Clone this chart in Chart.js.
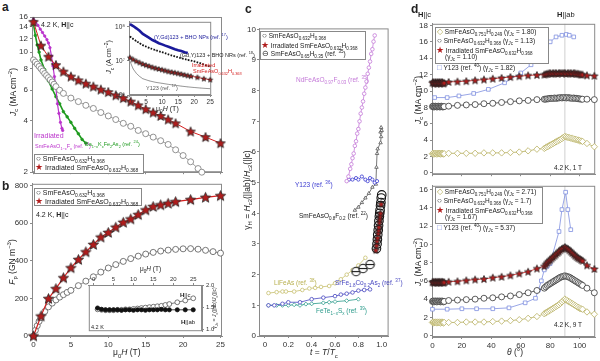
<!DOCTYPE html>
<html>
<head>
<meta charset="utf-8">
<script src="https://cdn.jsdelivr.net/npm/chart.js@4.4.1/dist/chart.umd.min.js"></script>
<style>
body { margin: 0; background: #fff; }
#fig { position: relative; width: 600px; height: 361px; overflow: hidden; font-family: "Liberation Sans", Arial, sans-serif; color: #222; }
#fig canvas { position: absolute; }
.t { position: absolute; white-space: nowrap; font-size: 7px; line-height: 1; z-index: 5; }
.t sub, .t sup { font-size: 70%; line-height: 0; }
.L { position: absolute; font-weight: bold; font-size: 12px; line-height: 1; z-index: 5; }
.box { position: absolute; border: 1px solid #888; background: #fff; z-index: 4; }
.rot { transform: translate(-50%, -50%) rotate(-90deg); font-size: 8.5px; }
.mk { font-size: 8px; }
.st { color: #b01c1c; font-size: 9px; }
</style>
</head>
<body>
<div id="fig">
  <div class="L" style="left:2px;top:1px">a</div>
  <div class="L" style="left:2px;top:180px">b</div>
  <div class="L" style="left:245px;top:3px">c</div>
  <div class="L" style="left:411px;top:3px">d</div>

  <!-- panel a -->
  <div class="t rot" style="left:13px;top:92px"><i>J</i><sub>c</sub> (MA cm<sup>−2</sup>)</div>
  <div class="t" style="left:41px;top:21px">4.2 K, <b>H</b>||c</div>
  <div class="t" style="left:34px;top:132px;color:#bb33cc">Irradiated</div>
  <div class="t" style="left:35px;top:144px;font-size:5.5px;color:#bb33cc">SmFeAsO<sub>1−x</sub>F<sub>x</sub> (ref. <sup>23</sup>)</div>
  <div class="t" style="left:85px;top:142px;font-size:5.5px;color:#1e9a1e">Ba<sub>1−x</sub>K<sub>x</sub>Fe<sub>2</sub>As<sub>2</sub> (ref. <sup>24</sup>)</div>
  <div class="box" style="left:34px;top:154px;width:108px;height:18px"></div>
  <div class="t" style="left:36px;top:155px"><span class="mk">○</span> SmFeAsO<sub>0.632</sub>H<sub>0.368</sub></div>
  <div class="t" style="left:35px;top:163px"><span class="st">★</span> Irradiated SmFeAsO<sub>0.632</sub>H<sub>0.368</sub></div>

  <!-- inset a -->
  <div class="t rot" style="left:109px;top:57px;font-size:7px"><i>J</i><sub>c</sub> (A cm<sup>−2</sup>)</div>
  <div class="t" style="left:156px;top:105px;font-size:7px">μ<sub>0</sub><i>H</i> (T)</div>
  <div class="t" style="left:154px;top:35px;font-size:5.5px;color:#1a1a9a">(Y,Gd)123 + BHO NPs (ref. <sup>17</sup>)</div>
  <div class="t" style="left:180px;top:53px;font-size:5.5px">(Gd,Y)123 + BHO NRs (ref. <sup>18</sup>)</div>
  <div class="t" style="left:192px;top:63px;font-size:5.5px;color:#d42020">Irradiated</div>
  <div class="t" style="left:193px;top:69px;font-size:5.5px;color:#d42020">SmFeAsO<sub>0.632</sub>H<sub>0.368</sub></div>
  <div class="t" style="left:146px;top:86px;font-size:5.5px;color:#555">Y123 (ref. <sup>17</sup>)</div>

  <!-- panel b -->
  <div class="t rot" style="left:12px;top:262px"><i>F</i><sub>p</sub> (GN m<sup>−3</sup>)</div>
  <div class="t" style="left:113px;top:348px;font-size:8.5px">μ<sub>0</sub><i>H</i> (T)</div>
  <div class="box" style="left:34px;top:188px;width:106px;height:16px"></div>
  <div class="t" style="left:36px;top:189px"><span class="mk">○</span> SmFeAsO<sub>0.632</sub>H<sub>0.368</sub></div>
  <div class="t" style="left:35px;top:197px"><span class="st">★</span> Irradiated SmFeAsO<sub>0.632</sub>H<sub>0.368</sub></div>
  <div class="t" style="left:36px;top:211px">4.2 K, <b>H</b>||c</div>

  <!-- inset b -->
  <div class="t" style="left:140px;top:266px;font-size:6.5px">μ<sub>0</sub><i>H</i> (T)</div>
  <div class="t" style="left:180px;top:292px;font-size:6px"><b>H</b>||c</div>
  <div class="t" style="left:181px;top:319px;font-size:6px"><b>H</b>||ab</div>
  <div class="t" style="left:91px;top:325px;font-size:5.5px">4.2 K</div>
  <div class="t" style="left:214px;top:308px;font-size:5px;transform:translate(-50%,-50%) rotate(-90deg)">γ<sub><i>J</i>c</sub> = <i>J</i><sub>c</sub>(||ab)/<i>J</i><sub>c</sub>(||c)</div>

  <!-- panel c -->
  <div class="t rot" style="left:247px;top:190px">γ<sub>H</sub> = <i>H</i><sub>c2</sub>(||ab)/<i>H</i><sub>c2</sub>(||c)</div>
  <div class="t" style="left:310px;top:348px;font-size:8.5px"><i>t</i> = <i>T</i>/<i>T</i><sub>c</sub></div>
  <div class="box" style="left:260px;top:31px;width:104px;height:27px"></div>
  <div class="t" style="left:262px;top:32px;font-size:6.5px"><span class="mk">○</span> SmFeAsO<sub>0.632</sub>H<sub>0.368</sub></div>
  <div class="t" style="left:261px;top:41px;font-size:6.5px"><span class="st">★</span> Irradiated SmFeAsO<sub>0.632</sub>H<sub>0.368</sub></div>
  <div class="t" style="left:262px;top:50px;font-size:6.5px"><span class="mk">⊖</span> SmFeAsO<sub>0.65</sub>H<sub>0.35</sub> (ref. <sup>35</sup>)</div>
  <div class="t" style="left:296px;top:77px;font-size:6.5px;color:#c47ad8">NdFeAsO<sub>0.97</sub>F<sub>0.03</sub> (ref. <sup>35</sup>)</div>
  <div class="t" style="left:295px;top:182px;font-size:6.5px;color:#3a3ad0">Y123 (ref. <sup>36</sup>)</div>
  <div class="t" style="left:299px;top:213px;font-size:6.5px">SmFeAsO<sub>0.8</sub>F<sub>0.2</sub> (ref. <sup>22</sup>)</div>
  <div class="t" style="left:274px;top:280px;font-size:6.5px;color:#b8b050">LiFeAs (ref. <sup>38</sup>)</div>
  <div class="t" style="left:335px;top:280px;font-size:6.5px;color:#4848c0">SrFe<sub>1.8</sub>Co<sub>0.2</sub>As<sub>2</sub> (ref. <sup>37</sup>)</div>
  <div class="t" style="left:316px;top:308px;font-size:6.5px;color:#2a9a8a">FeTe<sub>1−x</sub>S<sub>x</sub> (ref. <sup>39</sup>)</div>

  <!-- panel d -->
  <div class="t" style="left:418px;top:11px;font-size:7.5px"><b>H</b>||c</div>
  <div class="t" style="left:557px;top:11px;font-size:7.5px"><b>H</b>||ab</div>
  <div class="t rot" style="left:418px;top:100px"><i>J</i><sub>c</sub> (MA cm<sup>−2</sup>)</div>
  <div class="t rot" style="left:418px;top:262px"><i>J</i><sub>c</sub> (MA cm<sup>−2</sup>)</div>
  <div class="t" style="left:507px;top:348px;font-size:8.5px"><i>θ</i> (°)</div>
  <div class="t" style="left:554px;top:165px;font-size:6.5px">4.2 K, 1 T</div>
  <div class="t" style="left:554px;top:322px;font-size:6.5px">4.2 K, 9 T</div>

  <div class="box" style="left:435px;top:27px;width:112px;height:35px"></div>
  <div class="t" style="left:437px;top:28px;font-size:6.5px"><span class="mk" style="color:#b8b060">◇</span> SmFeAsO<sub>0.751</sub>H<sub>0.249</sub> (γ<sub><i>J</i>c</sub> = 1.80)</div>
  <div class="t" style="left:437px;top:37px;font-size:6.5px"><span class="mk">○</span> SmFeAsO<sub>0.632</sub>H<sub>0.368</sub> (γ<sub><i>J</i>c</sub> = 1.13)</div>
  <div class="t" style="left:436px;top:46px;font-size:6.5px"><span class="st">★</span> Irradiated SmFeAsO<sub>0.632</sub>H<sub>0.368</sub></div>
  <div class="t" style="left:445px;top:54px;font-size:6.5px">(γ<sub><i>J</i>c</sub> = 1.10)</div>
  <div class="t" style="left:437px;top:64px;font-size:6.5px"><span class="mk" style="color:#7f8fe0">□</span> Y123 (ref. <sup>40</sup>) (γ<sub><i>J</i>c</sub> = 1.82)</div>

  <div class="box" style="left:435px;top:187px;width:106px;height:35px"></div>
  <div class="t" style="left:437px;top:188px;font-size:6.5px"><span class="mk" style="color:#b8b060">◇</span> SmFeAsO<sub>0.751</sub>H<sub>0.249</sub> (γ<sub><i>J</i>c</sub> = 2.71)</div>
  <div class="t" style="left:437px;top:197px;font-size:6.5px"><span class="mk">○</span> SmFeAsO<sub>0.632</sub>H<sub>0.368</sub> (γ<sub><i>J</i>c</sub> = 1.7)</div>
  <div class="t" style="left:436px;top:206px;font-size:6.5px"><span class="st">★</span> Irradiated SmFeAsO<sub>0.632</sub>H<sub>0.368</sub></div>
  <div class="t" style="left:445px;top:214px;font-size:6.5px">(γ<sub><i>J</i>c</sub> = 1.67)</div>
  <div class="t" style="left:437px;top:224px;font-size:6.5px"><span class="mk" style="color:#7f8fe0">□</span> Y123 (ref. <sup>40</sup>) (γ<sub><i>J</i>c</sub> = 5.37)</div>
</div>

<script>
const FONT = '"Liberation Sans", Arial, sans-serif';

/* ---------------- data: panel a ---------------- */
const aTicksX = [0, 5, 10, 15, 20, 25];
const aTicksY = [2, 4, 6, 8, 10, 12, 14, 16];
const aIrrX = [0, 1, 2, 3, 4, 5, 6, 7, 8, 9, 10, 11, 12, 13, 14, 15, 16, 17, 18, 19, 21, 23, 25];
const aIrrY = [15, 10.9, 9.4, 8.4, 7.7, 7.2, 6.85, 6.55, 6.3, 6.05, 5.85, 5.6, 5.4, 5.15, 4.9, 4.65, 4.45, 4.25, 4.05, 3.85, 3.45, 3.2, 2.95];
const aPrsX = [0, 0.25, 0.5, 0.75, 1, 1.25, 1.5, 1.75, 2, 2.25, 2.5, 2.75, 3, 3.5, 4, 5, 6, 7, 8, 9, 10, 11, 12, 13, 14, 15, 16, 17, 18, 19, 20, 21, 22, 22.5];
const aPrsY = [9.0, 8.75, 8.5, 8.25, 8.0, 7.75, 7.5, 7.3, 7.1, 6.9, 6.7, 6.5, 6.3, 6.0, 5.75, 5.4, 5.15, 4.9, 4.7, 4.45, 4.25, 4.05, 3.85, 3.7, 3.5, 3.35, 3.2, 3.05, 2.9, 2.7, 2.5, 2.3, 2.1, 2.0];
const aMagX = [0, 0.3, 0.6, 0.9, 1.2, 1.5, 1.8, 2.0, 2.2, 2.4, 2.6, 2.8, 3.0, 3.2, 3.4, 3.6, 3.8, 3.9];
const aMagY = [15.5, 15, 14.3, 13.6, 13, 12.4, 11.8, 11.3, 10.6, 9.5, 8.3, 7.2, 6.2, 5.0, 4.4, 3.9, 3.6, 3.5];
const aGrnX = [0, 0.25, 0.5, 0.75, 1, 1.5, 2, 2.5, 3, 3.5, 4, 4.5, 5, 5.5, 6, 6.5, 7];
const aGrnY = [14.5, 12.5, 11, 10, 9.0, 7.9, 6.8, 6.1, 5.5, 5.0, 4.5, 4.2, 3.9, 3.6, 3.35, 3.1, 2.95];

/* inset a */
const iaTicksX = [0, 5, 10, 15, 20, 25];
const iaTicksY = [1e6, 1e7, 1e8];
const iaLabelsY = ['10⁶', '10⁷', '10⁸'];
const iaBlueX = [0, 1, 2, 3, 4, 5, 6, 7, 8, 9, 10, 11, 12, 13, 14, 15, 16, 17, 18];
const iaBlueY = [1.2e8, 1.05e8, 9.0e7, 7.6e7, 6.2e7, 5.4e7, 4.7e7, 4.1e7, 3.7e7, 3.3e7, 3.05e7, 2.8e7, 2.6e7, 2.4e7, 2.2e7, 2.05e7, 1.95e7, 1.8e7, 1.7e7];
const iaDashX = [0, 1, 2, 3, 4, 6, 8, 10, 12, 14, 16, 18, 20, 22, 24, 25];
const iaDashY = [5.2e7, 4.4e7, 3.8e7, 3.3e7, 2.9e7, 2.4e7, 2.05e7, 1.8e7, 1.55e7, 1.35e7, 1.2e7, 1.07e7, 9.7e6, 8.5e6, 7.2e6, 6.8e6];
const iaIrrX = [0, 1, 2, 3, 4, 5, 6, 7, 8, 9, 10, 11, 12, 13, 14, 15, 16, 17, 18, 19, 21, 23, 25];
const iaIrrY = [1.25e7, 1.1e7, 9.8e6, 8.9e6, 8.1e6, 7.5e6, 7.0e6, 6.5e6, 6.1e6, 5.8e6, 5.5e6, 5.2e6, 4.9e6, 4.7e6, 4.5e6, 4.3e6, 4.1e6, 3.9e6, 3.7e6, 3.55e6, 3.3e6, 3.0e6, 2.8e6];
const iaY123X = [0, 0.5, 1, 2, 3, 4, 6, 8, 10, 12, 14, 16, 18, 20, 22, 24, 25];
const iaY123Y = [1.0e7, 7.5e6, 5.8e6, 4.3e6, 3.5e6, 3.0e6, 2.6e6, 2.35e6, 2.2e6, 2.05e6, 1.93e6, 1.82e6, 1.73e6, 1.66e6, 1.6e6, 1.55e6, 1.53e6];

/* ---------------- data: panel b ---------------- */
const bTicksX = [0, 5, 10, 15, 20, 25];
const bTicksY = [0, 200, 400, 600, 800];
const bIrrX = [0, 1, 2, 3, 4, 5, 6, 7, 8, 9, 10, 11, 12, 13, 14, 15, 16, 17, 18, 19, 21, 23, 25];
const bIrrY = [0, 106, 199, 252, 310, 363, 407, 448, 487, 526, 551, 579, 605, 623, 646, 671, 689, 698, 706, 715, 726, 738, 747];
const bPrsX = [0, 0.25, 0.5, 0.75, 1, 1.5, 2, 2.5, 3, 3.5, 4, 4.5, 5, 6, 7, 8, 9, 10, 11, 12, 13, 14, 15, 16, 17, 18, 19, 20, 21, 22, 23, 24, 25];
const bPrsY = [0, 30, 55, 78, 98, 130, 155, 175, 192, 207, 220, 232, 243, 268, 292, 315, 340, 362, 380, 397, 412, 425, 436, 445, 452, 457, 461, 464, 465, 462, 456, 449, 441];

/* inset b */
const ibTicksX = [0, 5, 10, 15, 20, 25];
const ibTicksY = [1.0, 1.5, 2.0];
const ibLabelsY = ['1.0', '1.5', '2.0'];
const ibX = [1, 2, 3, 4, 5, 6, 7, 8, 9, 10, 11, 12, 13, 14, 15, 16, 17, 18, 19, 21, 23, 25];
const ibCY = [1.45, 1.44, 1.43, 1.43, 1.43, 1.44, 1.44, 1.45, 1.45, 1.46, 1.47, 1.48, 1.49, 1.50, 1.51, 1.52, 1.53, 1.55, 1.57, 1.61, 1.65, 1.70];
const ibAbY = [1.48, 1.45, 1.44, 1.44, 1.44, 1.44, 1.43, 1.44, 1.44, 1.43, 1.44, 1.44, 1.43, 1.44, 1.44, 1.44, 1.45, 1.44, 1.44, 1.44, 1.44, 1.44];

/* ---------------- data: panel c ---------------- */
const cTicksX = [0, 0.2, 0.4, 0.6, 0.8, 1.0];
const cLabelsX = ['0', '0.2', '0.4', '0.6', '0.8', '1.0'];
const cTicksY = [0, 1, 2, 3, 4, 5, 6, 7, 8, 9, 10];
const cNdX = [0.70, 0.715, 0.73, 0.74, 0.75, 0.76, 0.77, 0.78, 0.79, 0.80, 0.81, 0.82, 0.83, 0.84, 0.85, 0.86, 0.87, 0.88, 0.89, 0.90, 0.91, 0.92, 0.93, 0.94];
const cNdY = [5.05, 5.2, 5.45, 5.6, 5.8, 5.95, 6.2, 6.35, 6.6, 6.75, 7.0, 7.25, 7.45, 7.65, 7.9, 8.1, 8.3, 8.55, 8.75, 8.95, 9.2, 9.35, 9.6, 9.8];
const cY123X = [0.72, 0.75, 0.78, 0.80, 0.83, 0.86, 0.88, 0.90, 0.92, 0.94, 0.96];
const cY123Y = [5.1, 5.1, 5.15, 5.1, 5.2, 5.1, 5.05, 5.15, 5.1, 5.0, 5.05];
const cSmFX = [0.77, 0.80, 0.83, 0.86, 0.89, 0.92, 0.95, 0.955, 0.96, 0.965, 0.99, 0.995, 0.99, 0.995, 1.0];
const cSmFY = [4.1, 4.2, 4.35, 4.5, 4.65, 4.85, 4.95, 5.5, 5.95, 6.1, 6.3, 6.5, 6.65, 6.8, 6.7];
const cOurX = [0.955, 0.96, 0.963, 0.966, 0.97, 0.973, 0.976, 0.98, 0.983, 0.986, 0.99, 0.993, 0.996, 1.0];
const cOurY = [2.85, 3.0, 3.15, 3.3, 3.45, 3.6, 3.75, 3.9, 4.0, 4.1, 4.25, 4.35, 4.5, 4.6];
const cIrrX = [0.95, 0.955, 0.96, 0.965, 0.97, 0.973, 0.976, 0.98, 0.983, 0.986, 0.99, 0.995];
const cIrrY = [2.8, 2.95, 3.1, 3.2, 3.35, 3.45, 3.55, 3.7, 3.8, 3.9, 4.0, 4.3];
const cRefX = [0.78, 0.84, 0.90];
const cRefY = [2.1, 2.2, 2.33];
const cLiX = [0.03, 0.10, 0.15, 0.18, 0.25, 0.32, 0.38, 0.43, 0.48, 0.55, 0.60, 0.65, 0.70, 0.75, 0.80, 0.86];
const cLiY = [1.4, 1.43, 1.45, 1.45, 1.45, 1.5, 1.55, 1.57, 1.6, 1.63, 1.72, 1.85, 2.0, 2.15, 2.3, 2.55];
const cSrX = [0.03, 0.08, 0.15, 0.2, 0.3, 0.4, 0.5, 0.6, 0.65, 0.7, 0.75, 0.8, 0.85, 0.9];
const cSrY = [1.0, 1.0, 1.05, 1.1, 1.1, 1.2, 1.25, 1.3, 1.35, 1.38, 1.42, 1.48, 1.5, 1.52];
const cFeX = [0.03, 0.1, 0.15, 0.2, 0.25, 0.3, 0.35, 0.4, 0.5, 0.55, 0.6, 0.7, 0.8];
const cFeY = [1.0, 1.0, 1.0, 1.0, 1.02, 1.0, 1.04, 1.05, 1.08, 1.1, 1.12, 1.15, 1.2];

/* ---------------- data: panel d ---------------- */
const dTicksX = [0, 20, 40, 60, 80, 100];
const d1TicksY = [0, 2, 4, 6, 8, 10, 12, 14, 16, 18];
const d2TicksY = [0, 2, 4, 6, 8, 10, 12, 14, 16];
const dX = [0, 0.5, 1, 1.5, 2, 2.5, 3, 3.5, 4, 4.5, 5, 5.5, 6, 6.5, 7, 7.5, 8,
  11, 17, 23, 29, 35, 41, 47, 53, 59, 65, 71,
  76, 77, 78, 79, 80, 81, 82, 83, 84, 85, 86, 87, 88, 89, 90, 91, 92, 93, 94, 95, 96, 97, 98, 99, 100, 101, 102,
  105, 110];
// 1 T
const d1StarY = [11.0, 11.1, 10.9, 11.0, 11.1, 11.0, 10.9, 11.1, 11.0, 11.0, 11.1, 10.9, 11.0, 11.1, 11.0, 10.9, 11.0,
  11.1, 11.15, 11.2, 11.3, 11.4, 11.5, 11.6, 11.7, 11.8, 11.9, 11.95,
  12.0, 12.05, 12.1, 12.15, 12.2, 12.1, 12.2, 12.15, 12.2, 12.1, 12.2, 12.2, 12.15, 12.2, 12.2, 12.1, 12.2, 12.15, 12.2, 12.1, 12.2, 12.15, 12.1, 12.1, 12.05, 12.0, 12.0,
  11.9, 11.85];
const d1CircY = [8.1, 8.15, 8.05, 8.1, 8.15, 8.1, 8.05, 8.1, 8.15, 8.1, 8.05, 8.1, 8.15, 8.1, 8.05, 8.1, 8.1,
  8.15, 8.25, 8.3, 8.35, 8.45, 8.5, 8.6, 8.7, 8.8, 8.85, 8.95,
  9.0, 9.0, 9.05, 9.05, 9.1, 9.1, 9.1, 9.15, 9.1, 9.15, 9.15, 9.2, 9.15, 9.2, 9.2, 9.15, 9.2, 9.15, 9.15, 9.1, 9.15, 9.1, 9.1, 9.05, 9.05, 9.0, 9.0,
  9.0, 8.95];
const d1DiaY = [2.35, 2.4, 2.3, 2.35, 2.4, 2.35, 2.3, 2.4, 2.35, 2.35, 2.4, 2.3, 2.35, 2.4, 2.35, 2.3, 2.35,
  2.4, 2.4, 2.4, 2.4, 2.45, 2.45, 2.45, 2.5, 2.55, 2.7, 2.9,
  3.0, 3.1, 3.2, 3.3, 3.4, 3.5, 3.6, 3.7, 3.8, 3.9, 4.0, 4.1, 4.2, 4.35, 4.45, 4.4, 4.35, 4.3, 4.25, 4.2, 4.15, 4.1, 4.05, 4.0, 3.95, 3.9, 3.85,
  3.6, 3.2];
const d1SqX = [1.5, 10, 18, 28, 38, 49, 60, 67, 73, 80, 84, 88, 91, 93, 96];
const d1SqY = [9.2, 9.2, 9.4, 9.7, 10.2, 11.0, 12.2, 13.2, 14.4, 16.0, 16.6, 16.8, 16.9, 16.8, 16.6];
// 9 T
const d2StarY = [5.85, 5.9, 5.8, 5.85, 5.9, 5.85, 5.8, 5.9, 5.85, 5.85, 5.9, 5.8, 5.85, 5.9, 5.85, 5.8, 5.85,
  5.9, 5.95, 6.05, 6.15, 6.2, 6.35, 6.45, 6.6, 6.8, 7.0, 7.35,
  7.6, 7.8, 8.0, 8.15, 8.3, 8.45, 8.6, 8.75, 8.9, 9.05, 9.2, 9.35, 9.5, 9.6, 9.7, 9.6, 9.5, 9.35, 9.2, 9.05, 8.9, 8.75, 8.6, 8.5, 8.4, 8.3, 8.2,
  7.7, 7.3];
const d2CircY = [3.75, 3.8, 3.7, 3.75, 3.8, 3.75, 3.7, 3.8, 3.75, 3.75, 3.8, 3.7, 3.75, 3.8, 3.75, 3.7, 3.75,
  3.85, 3.9, 3.95, 4.0, 4.1, 4.15, 4.25, 4.35, 4.5, 4.7, 4.95,
  5.2, 5.35, 5.5, 5.6, 5.7, 5.8, 5.9, 6.0, 6.1, 6.2, 6.3, 6.4, 6.45, 6.5, 6.55, 6.5, 6.45, 6.4, 6.3, 6.2, 6.1, 6.0, 5.9, 5.8, 5.7, 5.6, 5.5,
  5.2, 4.7];
const d2DiaY = [1.45, 1.5, 1.4, 1.45, 1.5, 1.45, 1.4, 1.5, 1.45, 1.45, 1.5, 1.4, 1.45, 1.5, 1.45, 1.4, 1.45,
  1.45, 1.45, 1.5, 1.5, 1.5, 1.55, 1.6, 1.65, 1.75, 1.9, 2.1,
  2.4, 2.5, 2.6, 2.7, 2.8, 2.9, 3.0, 3.1, 3.2, 3.3, 3.4, 3.55, 3.7, 3.85, 4.0, 3.9, 3.8, 3.7, 3.6, 3.5, 3.4, 3.3, 3.2, 3.1, 3.0, 2.95, 2.9,
  2.6, 2.35];
const d2SqX = [0, 10, 20, 30, 41, 52, 63, 70, 72, 74, 76, 78, 80, 86, 88, 90.5, 92, 94];
const d2SqY = [2.9, 2.9, 2.95, 2.95, 2.95, 3.05, 3.6, 4.1, 5.0, 6.0, 7.2, 7.6, 7.9, 11.4, 13.8, 15.7, 13.8, 11.6];

/* ---------------- marker images ---------------- */
function starImg(r, fill, stroke) {
    const c = document.createElement('canvas');
    const s = Math.ceil(r * 2 + 2);
    c.width = c.height = s;
    const g = c.getContext('2d');
    g.beginPath();
    for (let i = 0; i < 10; i++) {
        const a = -Math.PI / 2 + i * Math.PI / 5;
        const rr = i % 2 ? r * 0.45 : r;
        g.lineTo(s / 2 + rr * Math.cos(a), s / 2 + rr * Math.sin(a) + r * 0.08);
    }
    g.closePath();
    g.fillStyle = fill; g.fill();
    g.strokeStyle = stroke; g.lineWidth = 0.8; g.stroke();
    return c;
}
function barCircleImg(r) {
    const c = document.createElement('canvas');
    const s = Math.ceil(r * 2 + 2);
    c.width = c.height = s;
    const g = c.getContext('2d');
    g.strokeStyle = '#111'; g.lineWidth = 1.1;
    g.beginPath(); g.arc(s / 2, s / 2, r, 0, Math.PI * 2);
    g.fillStyle = '#fff'; g.fill(); g.stroke();
    g.beginPath(); g.moveTo(s / 2 - r, s / 2); g.lineTo(s / 2 + r, s / 2); g.stroke();
    return c;
}

/* ---------------- helpers ---------------- */
const framePlugin = {
    id: 'frame',
    beforeDraw(c, args, o) {
        if (!o.bg) return;
        const {left, top, right, bottom} = c.chartArea;
        c.ctx.save();
        c.ctx.fillStyle = o.bg;
        c.ctx.fillRect(left, top, right - left, bottom - top);
        c.ctx.restore();
    },
    beforeDatasetsDraw(c, args, o) {
        const {left, top, right, bottom} = c.chartArea;
        const g = c.ctx;
        g.save();
        if (o.vline !== undefined) {
            const x = c.scales.x.getPixelForValue(o.vline);
            g.strokeStyle = '#cfcfcf'; g.lineWidth = 1;
            g.beginPath(); g.moveTo(x, top); g.lineTo(x, bottom); g.stroke();
        }
        g.strokeStyle = '#8a8a8a'; g.lineWidth = 1;
        g.strokeRect(left + 0.5, top + 0.5, right - left - 1, bottom - top - 1);
        g.restore();
    }
};

function makeAxis(a, size) {
    return {
        type: a.log ? 'logarithmic' : 'linear',
        position: a.position, min: a.min, max: a.max,
        afterBuildTicks: s => { s.ticks = a.ticks.map(v => ({value: v})); },
        afterFit: s => {
            if (s.isHorizontal()) { s.height = size; s.paddingLeft = 0; s.paddingRight = 0; }
            else { s.width = size; s.paddingTop = 0; s.paddingBottom = 0; }
        },
        ticks: {
            display: !a.hide, autoSkip: false, maxRotation: 0, padding: a.pad ?? 2, color: '#333',
            font: {size: a.fs || 8, family: FONT},
            callback: (v, i) => a.labels ? a.labels[i] : String(v)
        },
        grid: {drawOnChartArea: false, tickLength: 2, color: '#8a8a8a'},
        border: {color: '#8a8a8a'}
    };
}

function plot(box, xAx, yAx, datasets, extra) {
    const m = box.m; // [left, right, top, bottom]
    const cv = document.createElement('canvas');
    const w = box.r - box.l + m[0] + m[1];
    const h = box.b - box.t + m[2] + m[3];
    cv.width = w; cv.height = h;
    cv.style.left = (box.l - m[0]) + 'px';
    cv.style.top = (box.t - m[2]) + 'px';
    cv.style.width = w + 'px';
    cv.style.height = h + 'px';
    cv.style.zIndex = box.z || 1;
    document.getElementById('fig').appendChild(cv);
    const xTop = xAx.position === 'top', yRight = yAx.position === 'right';
    return new Chart(cv, {
        type: 'line',
        data: {datasets},
        options: {
            responsive: false, animation: false, devicePixelRatio: 1,
            layout: {padding: {
                left: yRight ? m[0] : 0, right: yRight ? 0 : m[1],
                top: xTop ? 0 : m[2], bottom: xTop ? m[3] : 0
            }},
            plugins: {legend: {display: false}, tooltip: {enabled: false}, frame: extra || {}},
            scales: {
                x: makeAxis(xAx, xTop ? m[2] : m[3]),
                y: makeAxis(yAx, yRight ? m[1] : m[0])
            }
        },
        plugins: [framePlugin]
    });
}

function ser(xs, ys, o) {
    return {
        data: xs.map((x, i) => ({x, y: ys[i]})),
        borderColor: o.line || o.color, borderWidth: o.lw ?? 0.8, borderDash: o.dash || [],
        showLine: o.showLine !== false,
        pointStyle: o.ps || 'circle', pointRadius: o.r ?? 3,
        pointBackgroundColor: o.fill || '#fff', pointBorderColor: o.color, pointBorderWidth: o.pw ?? 0.8,
        tension: 0, clip: false
    };
}

/* ---------------- build ---------------- */
const RED = '#b01c1c', REDLINE = '#d42020';
const starA = starImg(5.0, RED, '#222');
const starB = starImg(5.4, RED, '#222');
const starS = starImg(2.6, RED, '#222');
const starC = starImg(3.6, RED, '#222');
const starD = starImg(3.8, RED, '#222');
const thetaC = barCircleImg(4.2);

// panel a
plot({l: 32, r: 222, t: 17, b: 174, m: [22, 6, 6, 3]},
    {position: 'bottom', min: -0.2, max: 25.2, ticks: aTicksX, hide: true},
    {position: 'left', log: true, min: 2, max: 16, ticks: aTicksY},
    [
        ser(aIrrX, aIrrY, {color: '#222', line: REDLINE, ps: starA, lw: 1}),
        ser(aPrsX, aPrsY, {color: '#777', r: 3, pw: 0.8, lw: 0.7}),
        ser(aMagX, aMagY, {color: '#bb33cc', fill: '#bb33cc', r: 1.2, lw: 1.2}),
        ser(aGrnX, aGrnY, {color: '#1e9a1e', fill: '#1e9a1e', r: 1.3, lw: 1.6})
    ]);

// inset a
plot({l: 129, r: 213, t: 20, b: 95, m: [17, 3, 3, 9], z: 2},
    {position: 'bottom', min: -0.3, max: 25.3, ticks: iaTicksX, fs: 6.5, pad: 1},
    {position: 'left', log: true, min: 1e6, max: 1.4e8, ticks: iaTicksY, labels: iaLabelsY, fs: 6.5},
    [
        ser(iaIrrX, iaIrrY, {color: '#222', line: REDLINE, ps: starS, lw: 0.8}),
        ser(iaBlueX, iaBlueY, {color: '#1a1a9a', r: 0.1, lw: 2.6}),
        ser(iaDashX, iaDashY, {color: '#111', r: 0.1, lw: 1.8, dash: [1.6, 1.4]}),
        ser(iaY123X, iaY123Y, {color: '#999', r: 0.1, lw: 1})
    ], {bg: '#fff'});

// panel b
plot({l: 32, r: 222, t: 183, b: 336, m: [22, 6, 4, 12]},
    {position: 'bottom', min: -0.2, max: 25.2, ticks: bTicksX},
    {position: 'left', min: 0, max: 810, ticks: bTicksY},
    [
        ser(bIrrX, bIrrY, {color: '#222', line: REDLINE, ps: starB, lw: 1.2}),
        ser(bPrsX, bPrsY, {color: '#555', r: 3, pw: 0.8, lw: 0.7})
    ]);

// inset b
plot({l: 87, r: 202, t: 285, b: 333, m: [3, 12, 8, 3], z: 2},
    {position: 'top', min: -1.2, max: 27.2, ticks: ibTicksX, fs: 6, pad: 0},
    {position: 'right', min: 0.957, max: 2.0, ticks: ibTicksY, labels: ibLabelsY, fs: 6},
    [
        ser(ibX, ibAbY, {color: '#111', fill: '#111', r: 2.1, lw: 0.8}),
        ser(ibX, ibCY, {color: '#555', r: 2.4, lw: 0.8})
    ], {bg: '#fff'});

// panel c
plot({l: 259, r: 390, t: 27, b: 336, m: [12, 4, 4, 12]},
    {position: 'bottom', min: -0.051, max: 1.059, ticks: cTicksX, labels: cLabelsX},
    {position: 'left', min: 0, max: 10.03, ticks: cTicksY, pad: 1},
    [
        ser(cIrrX, cIrrY, {color: '#222', ps: starC, showLine: false}),
        ser(cOurX, cOurY, {color: '#111', r: 4.3, pw: 1.1, showLine: false, fill: 'rgba(255,255,255,0)'}),
        ser(cRefX, cRefY, {color: '#111', ps: thetaC, showLine: false}),
        ser(cNdX, cNdY, {color: '#c47ad8', r: 1.8, lw: 0.8}),
        ser(cY123X, cY123Y, {color: '#3a3ad0', r: 1.6, lw: 0.8}),
        ser(cSmFX, cSmFY, {color: '#555', ps: 'triangle', r: 2, lw: 0.8}),
        ser(cLiX, cLiY, {color: '#c8c070', r: 1.8, lw: 0.8}),
        ser(cSrX, cSrY, {color: '#4848c0', r: 1.8, lw: 0.8}),
        ser(cFeX, cFeY, {color: '#2a9a8a', ps: 'rectRot', r: 2, lw: 0.8})
    ]);

// panel d, 1 T
plot({l: 432, r: 600, t: 23, b: 176, m: [14, 0, 4, 3]},
    {position: 'bottom', min: -0.3, max: 110.6, ticks: dTicksX, hide: true},
    {position: 'left', min: -0.15, max: 18.2, ticks: d1TicksY},
    [
        ser(dX, d1StarY, {color: '#222', line: REDLINE, ps: starD, lw: 0.8}),
        ser(dX, d1CircY, {color: '#333', r: 3, lw: 0.8}),
        ser(dX, d1DiaY, {color: '#b8b060', ps: 'rectRot', r: 3.2, lw: 0.8}),
        ser(d1SqX, d1SqY, {color: '#7f8fe0', ps: 'rect', r: 2.6, lw: 0.8})
    ], {vline: 90});

// panel d, 9 T
plot({l: 432, r: 600, t: 185, b: 337, m: [14, 0, 4, 12]},
    {position: 'bottom', min: -0.3, max: 110.6, ticks: dTicksX},
    {position: 'left', min: -0.14, max: 16.4, ticks: d2TicksY},
    [
        ser(dX, d2StarY, {color: '#222', line: REDLINE, ps: starD, lw: 0.8}),
        ser(dX, d2CircY, {color: '#333', r: 3, lw: 0.8}),
        ser(dX, d2DiaY, {color: '#b8b060', ps: 'rectRot', r: 3.2, lw: 0.8}),
        ser(d2SqX, d2SqY, {color: '#7f8fe0', ps: 'rect', r: 2.6, lw: 0.8})
    ], {vline: 90});
</script>
</body>
</html>
